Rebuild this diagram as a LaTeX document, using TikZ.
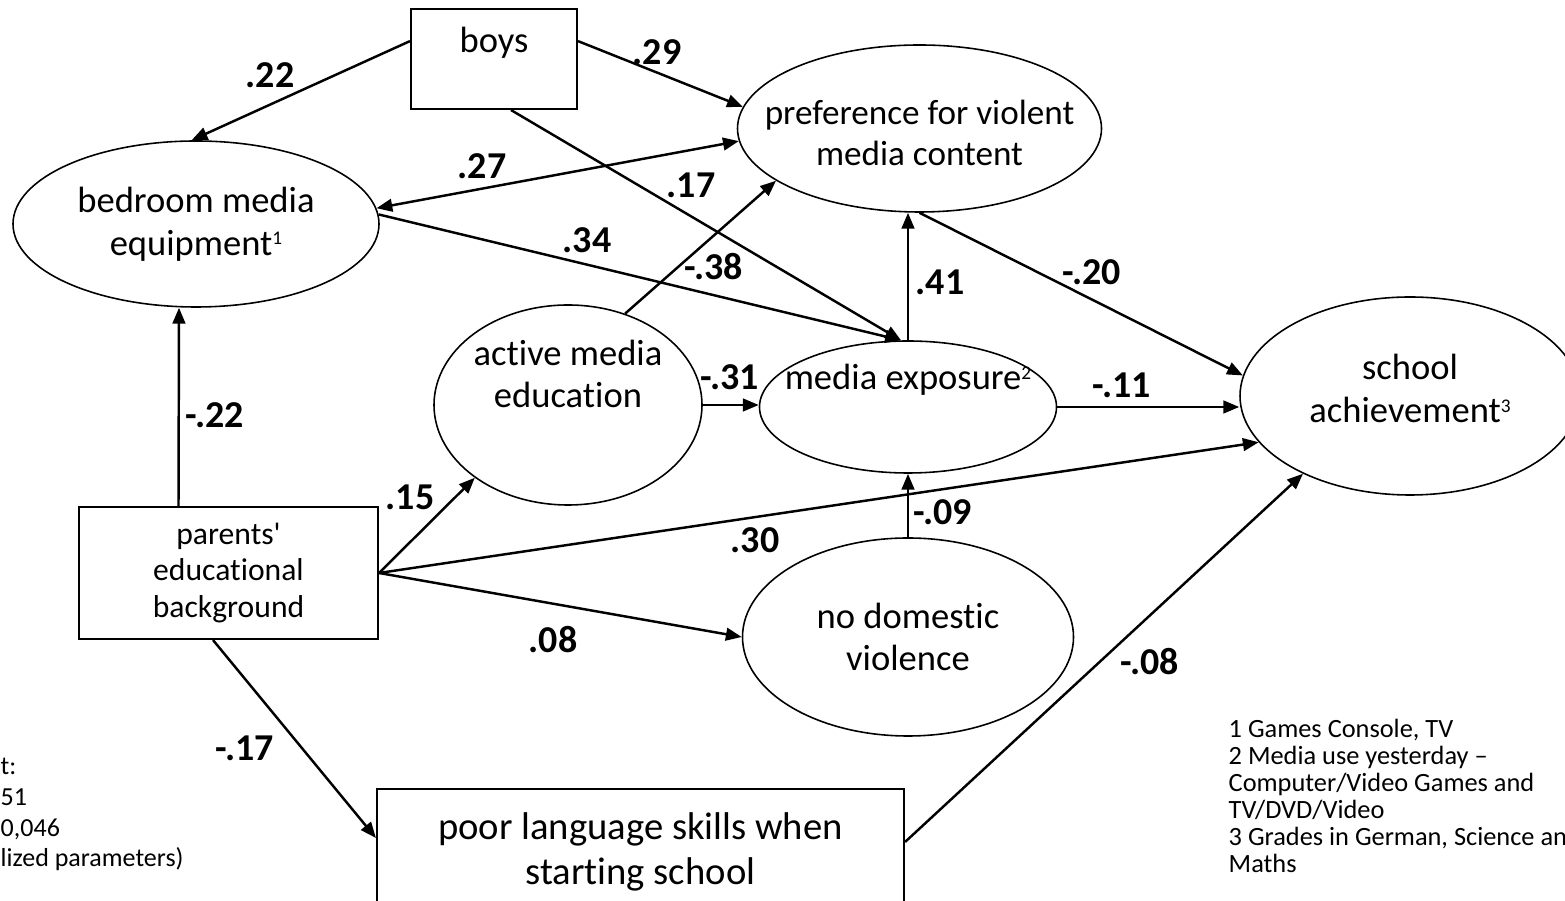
\documentclass[tikz,border=0pt]{standalone}
\usepackage{fontspec}
\setmainfont[Ligatures={NoCommon}]{Carlito}
\usetikzlibrary{arrows.meta, shapes.geometric}
\tikzset{
    % latent constructs, drawn as ellipses (their text is a centred label)
    latent/.style={ellipse, draw, line width=0.45pt, inner sep=0pt},
    % observed variables, drawn as boxes
    observed/.style={rectangle, draw, line width=0.6pt, inner sep=0pt, align=center},
    % text set inside the shapes
    intext/.style={align=center, inner sep=0pt, font=\fontsize{10.4}{12.2}\selectfont},
    % directed paths
    effect/.style={->, line width=0.7pt},
    % path coefficients on the wires
    coef/.style={font=\fontsize{10.8}{12}\selectfont\bfseries, inner sep=0pt},
    % footnotes and fit indices
    fnote/.style={align=left, anchor=north west, inner sep=0pt, font=\fontsize{7.5}{7.7}\selectfont},
}
% small raised footnote number
\newcommand{\supnum}[1]{\raisebox{0.6ex}{\fontsize{5.5}{5.5}\selectfont #1}}

\begin{document}
\begin{tikzpicture}[>={Triangle[length=4.5pt, width=3.6pt]}]
    \useasboundingbox (0, 0) rectangle (15.65, 9.01);

    % --- observed variables ---
    \node[observed, minimum width=1.66cm, minimum height=1.00cm,
          label={[intext, yshift=0.16cm]center:boys}] (boys) at (4.94, 8.42) {};
    \node[observed, minimum width=2.99cm, minimum height=1.32cm,
          font=\fontsize{9}{10.5}\selectfont] (par) at (2.285, 3.28)
          {parents\textquotesingle\\educational\\background};
    \node[observed, minimum width=5.27cm, minimum height=1.26cm,
          font=\fontsize{11}{12.8}\selectfont] (poor) at (6.405, 0.49)
          {poor language skills when\\starting school};

    % --- latent constructs ---
    \node[latent, minimum width=3.66cm, minimum height=1.66cm,
          label={[intext]center:{bedroom media\\equipment\supnum{1}}}] (bed) at (1.96, 6.77) {};
    \node[latent, minimum width=3.64cm, minimum height=1.67cm,
          label={[intext, font=\fontsize{10}{11.7}\selectfont, yshift=-0.045cm]center:{preference for violent\\media content}}] (pref) at (9.195, 7.725) {};
    \node[latent, minimum width=2.68cm, minimum height=2.00cm,
          label={[intext, yshift=0.31cm]center:{active media\\education}}] (act) at (5.68, 4.96) {};
    \node[latent, minimum width=2.97cm, minimum height=1.32cm,
          label={[intext, yshift=0.27cm]center:{media exposure\supnum{2}}}] (media) at (9.08, 4.94) {};
    \node[latent, minimum width=3.40cm, minimum height=1.98cm,
          label={[intext, yshift=0.075cm]center:{school\\achievement\supnum{3}}}] (school) at (14.10, 5.05) {};
    \node[latent, minimum width=3.31cm, minimum height=1.98cm,
          label={[intext]center:{no domestic\\violence}}] (nodom) at (9.08, 2.64) {};

    % paths out of boys
    \draw[effect] (boys.168) -- (bed.93);
    \draw[effect] (boys.12) -- (pref.173);
    \draw[effect] ([xshift=0.17cm]boys.south) -- (media.96);

    % bedroom media equipment
    \draw[<->, line width=0.7pt] (bed.5) -- (pref.184);
    \draw[effect] (bed.3) -- (media.96);

    % active media education
    \draw[effect] (act.58) -- (pref.200);
    \draw[effect] (act.east) -- (act.east -| media.west);

    % media exposure and preference
    \draw[effect] (media.north) -- (media.north |- pref.south);
    \draw[effect] (pref.south) -- (school.173);
    \draw[effect] (media.east) -- (media.east -| school.west);

    % parents' educational background
    \draw[effect] ([xshift=-0.5cm]par.north) -- ([xshift=-0.17cm]bed.south);
    \draw[effect] (par.east) -- (act.218);
    \draw[effect] (par.east) -- (school.197);
    \draw[effect] (par.east) -- (nodom.west);
    \draw[effect] ([xshift=-0.155cm]par.south) -- ([yshift=0.14cm]poor.west);

    % domestic violence and language skills
    \draw[effect] (nodom.north) -- (media.south);
    \draw[effect] ([yshift=0.1cm]poor.east) -- (school.216);

    % --- coefficients ---
    \node[coef] (kBoysBed)    at (2.70, 8.26) {.22};
    \node[coef] (kBoysPref)   at (6.57, 8.49) {.29};
    \node[coef] (kBedPref)    at (4.82, 7.35) {.27};
    \node[coef] (kBoysMedia)  at (6.91, 7.16) {.17};
    \node[coef] (kBedMedia)   at (5.87, 6.61) {.34};
    \node[coef] (kActPref)    at (7.14, 6.34) {-.38};
    \node[coef] (kMediaPref)  at (9.40, 6.19) {.41};
    \node[coef] (kPrefSchool) at (10.92, 6.29) {-.20};
    \node[coef] (kActMedia)   at (7.30, 5.24) {-.31};
    \node[coef] (kMediaSch)   at (11.22, 5.16) {-.11};
    \node[coef] (kParBed)     at (2.15, 4.86) {-.22};
    \node[coef] (kParAct)     at (4.10, 4.04) {.15};
    \node[coef] (kParSchool)  at (7.55, 3.61) {.30};
    \node[coef] (kDomMedia)   at (9.43, 3.89) {-.09};
    \node[coef] (kParDom)     at (5.53, 2.61) {.08};
    \node[coef] (kParPoor)    at (2.45, 1.53) {-.17};
    \node[coef] (kPoorSchool) at (11.50, 2.39) {-.08};

    % --- notes ---
    \node[fnote, font=\fontsize{7.4}{8.8}\selectfont] (fit) at (0, 1.44)
        {t:\\51\\0,046\\lized parameters)};
    \node[fnote] (foot) at (12.28, 1.83)
        {1 Games Console, TV\\2 Media use yesterday –\\Computer/Video Games and\\TV/DVD/Video\\3 Grades in German, Science an\\Maths};

\end{tikzpicture}
\end{document}
